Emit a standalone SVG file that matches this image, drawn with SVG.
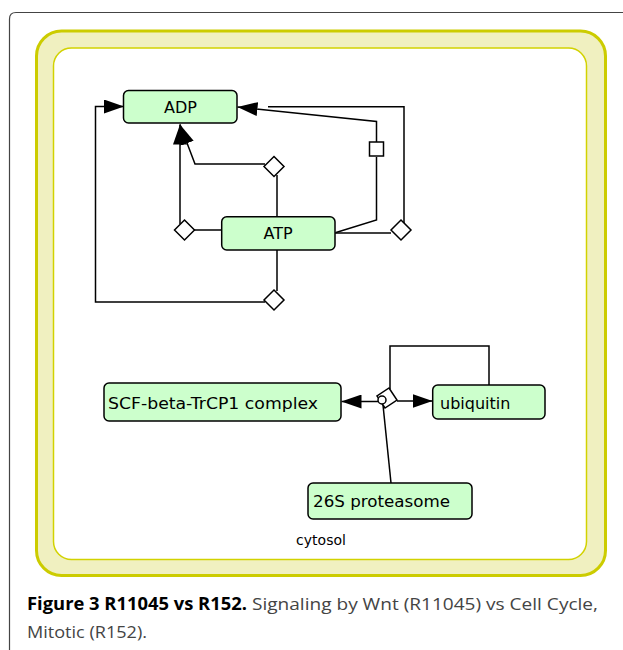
<svg xmlns="http://www.w3.org/2000/svg" width="623" height="650" viewBox="0 0 623 650">
<style>
.node{fill:#ccffcc;stroke:#000;stroke-width:1.5}
.lbl{font-family:"DejaVu Sans",sans-serif;font-size:16px;fill:#000}
.conn{fill:none;stroke:#000;stroke-width:1.5}
.dia{fill:#fff;stroke:#000;stroke-width:1.5}
.cap{font-family:"Open Sans","Noto Sans",sans-serif;font-size:17px}
</style>
<defs>
<marker id="arr" markerUnits="userSpaceOnUse" markerWidth="20" markerHeight="14" refX="20" refY="7" orient="auto">
<path d="M0,0 L20,7 L0,14 z" fill="#000"/>
</marker>
</defs>
<rect width="623" height="650" fill="#fff"/>
<path d="M9.5,650 L9.5,19 Q9.5,12.5 16,12.5 L623,12.5" fill="none" stroke="#444" stroke-width="1.2"/>
<g id="cytosol">
<rect x="36.5" y="31" width="569" height="544.5" rx="25" fill="#f0f0c0" stroke="#cccc00" stroke-width="3"/>
<rect x="53.5" y="48" width="533" height="511.5" rx="18" fill="#fff" stroke="#d2d200" stroke-width="1.5"/>
<text x="321" y="545" font-family="DejaVu Sans,sans-serif" font-size="14" text-anchor="middle">cytosol</text>
</g>
<g id="connectors">
<path class="conn" d="M265,302 L95.5,302 L95.5,106.5 L124,106.5" marker-end="url(#arr)"/>
<path class="conn" d="M277,250 L277,291"/>
<path class="conn" d="M277,216.7 L277,175"/>
<path class="conn" d="M265,164 L195,164 L180,124.5" marker-end="url(#arr)"/>
<path class="conn" d="M222,230 L194,230"/>
<path class="conn" d="M180,224 L180,124.5" marker-end="url(#arr)"/>
<path class="conn" d="M335,233 L391,233"/>
<path class="conn" d="M404,223 L404,106.7 L268,106.7"/>
<path class="conn" d="M336,232.5 L376.5,220 L376.5,157"/>
<path class="conn" d="M376.5,142 L376.5,121.5 L237.5,107" marker-end="url(#arr)"/>
<path class="conn" d="M378,401.5 L341.5,401.5" marker-end="url(#arr)"/>
<path class="conn" d="M397,401 L432.5,401" marker-end="url(#arr)"/>
<path class="conn" d="M390,389 L390,346 L489,346 L489,385"/>
<path class="conn" d="M391,483 L383,405"/>
</g>
<g id="diamonds">
<path class="dia" d="M274,156.5 L284,166.5 L274,176.5 L264,166.5 z"/>
<path class="dia" d="M184.5,220 L194.5,230 L184.5,240 L174.5,230 z"/>
<path class="dia" d="M401,220 L411,230 L401,240 L391,230 z"/>
<path class="dia" d="M274,290 L284,300 L274,310 L264,300 z"/>
<rect class="dia" x="369.5" y="142" width="14" height="14"/>
<path class="dia" d="M389,388 L397,400 L385,408 L377,396 z"/>
<circle class="dia" cx="382" cy="400" r="4"/>
</g>
<g id="ADP">
<rect class="node" x="123.5" y="90.5" width="113.5" height="32.5" rx="5"/>
<text class="lbl" x="180.5" y="112.5" text-anchor="middle">ADP</text>
</g>
<g id="ATP">
<rect class="node" x="221.7" y="216.7" width="113.3" height="33.3" rx="5"/>
<text class="lbl" x="278" y="239" text-anchor="middle">ATP</text>
</g>
<g id="SCF">
<rect class="node" x="104" y="383" width="237" height="38" rx="5"/>
<text class="lbl" x="108" y="409" textLength="210" lengthAdjust="spacingAndGlyphs">SCF-beta-TrCP1 complex</text>
</g>
<g id="ubiquitin">
<rect class="node" x="432.7" y="385" width="112.3" height="34" rx="5"/>
<text class="lbl" x="440" y="409">ubiquitin</text>
</g>
<g id="proteasome">
<rect class="node" x="308" y="483" width="164" height="36" rx="5"/>
<text class="lbl" x="313" y="507" textLength="137" lengthAdjust="spacingAndGlyphs">26S proteasome</text>
</g>
<g id="caption">
<text class="cap" x="27" y="610" font-weight="bold" fill="#000" textLength="220" lengthAdjust="spacingAndGlyphs">Figure 3 R11045 vs R152.</text>
<text class="cap" x="252" y="610" fill="#444" textLength="346" lengthAdjust="spacingAndGlyphs">Signaling by Wnt (R11045) vs Cell Cycle,</text>
<text class="cap" x="27" y="638" fill="#444" textLength="120" lengthAdjust="spacingAndGlyphs">Mitotic (R152).</text>
</g>
</svg>
